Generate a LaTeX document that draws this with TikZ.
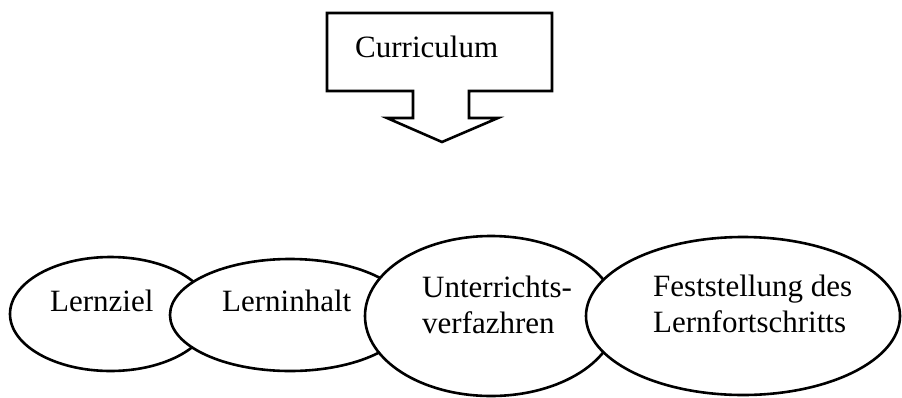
\documentclass[tikz,border=0pt]{standalone}
\usepackage{fontspec}
\setmainfont{Liberation Serif}
\usetikzlibrary{shapes.geometric}
\tikzset{
  lw/.style={line width=2.6pt},
  oval/.style={lw, draw=black, fill=white, ellipse, inner sep=0pt},
  txt/.style={inner sep=0pt, font=\fontsize{31}{36}\selectfont, align=left, anchor=base west},
}
\begin{document}
\begin{tikzpicture}[x=1pt,y=-1pt]
\useasboundingbox[fill=white] (0,0) rectangle (902,397);
% callout arrow box
\coordinate (b1) at (327,13);
\coordinate (b2) at (552,13);
\coordinate (b3) at (552,91);
\coordinate (s1) at (469,91);
\coordinate (s2) at (469,118);
\coordinate (w1) at (498,118);
\coordinate (tip) at (442,142);
\coordinate (w2) at (387,118);
\coordinate (s3) at (413,118);
\coordinate (s4) at (413,91);
\coordinate (b4) at (327,91);
\draw[lw, line join=miter] (b1) -- (b2) -- (b3) -- (s1) -- (s2) -- (w1) -- (tip) -- (w2) -- (s3) -- (s4) -- (b4) -- cycle;
\node[txt] (cur) at (355,57) {Curriculum};
% ellipses
\node[oval, minimum width=201pt, minimum height=114pt] (e1) at (110.5,314) {};
\node[oval, minimum width=240pt, minimum height=112pt] (e2) at (290,315) {};
\node[oval, minimum width=252pt, minimum height=160pt] (e3) at (491,316) {};
\node[oval, minimum width=314pt, minimum height=158pt] (e4) at (743,316) {};
\node[txt] (t1) at (50,311) {Lernziel};
\node[txt] (t2) at (222,311) {Lerninhalt};
\node[txt] (t3) at (422,333) {Unterrichts-\\verfazhren};
\node[txt] (t4) at (653,332) {Feststellung des\\Lernfortschritts};
\end{tikzpicture}
\end{document}
